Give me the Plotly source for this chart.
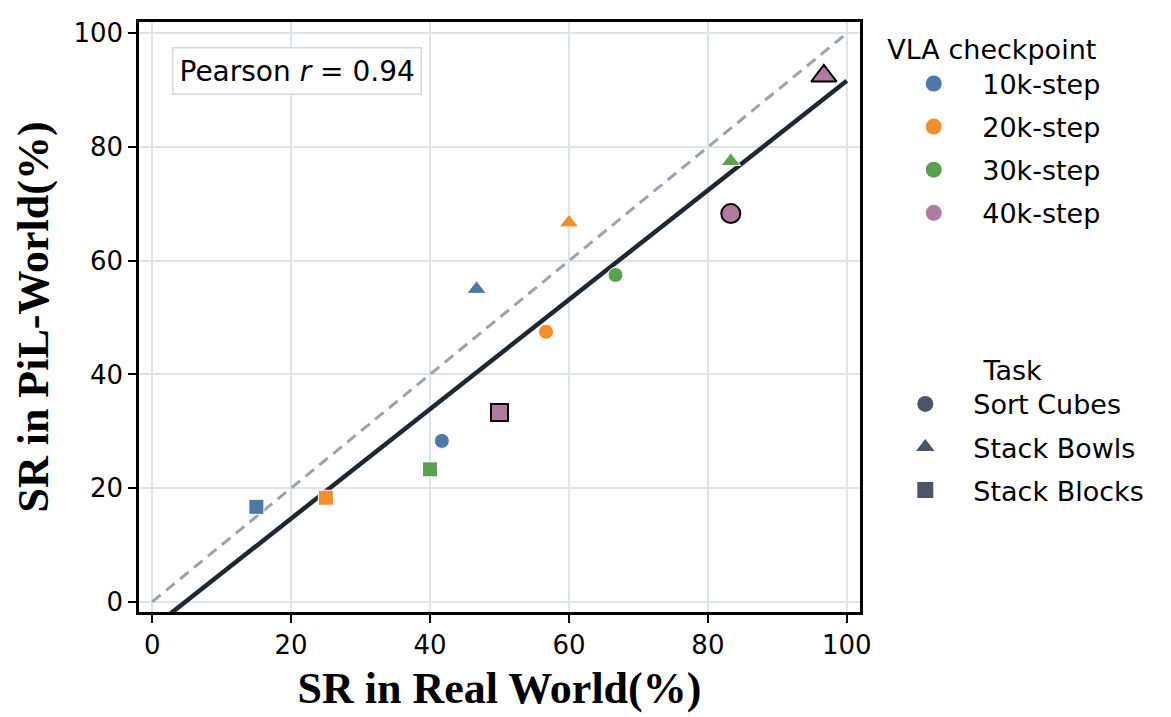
import numpy as np
import plotly.graph_objects as go

checkpoints = ["10k-step", "20k-step", "30k-step", "40k-step"]
colors = ["#4e79a7", "#f28e2b", "#59a14f", "#b07aa1"]
tasks = ["Sort Cubes", "Stack Bowls", "Stack Blocks"]
task_symbols = ["circle", "triangle-up", "square"]

# SR values (%) per checkpoint, ordered by task: Sort Cubes, Stack Bowls, Stack Blocks
real_10k = [41.7, 46.7, 15.0]
real_20k = [56.7, 60.0, 25.0]
real_30k = [66.7, 83.3, 40.0]
real_40k = [83.3, 96.7, 50.0]
sim_10k = [28.3, 55.0, 16.7]
sim_20k = [47.5, 66.7, 18.3]
sim_30k = [57.5, 77.5, 23.3]
sim_40k = [68.3, 92.5, 33.3]

real = [real_10k, real_20k, real_30k, real_40k]
sim = [sim_10k, sim_20k, sim_30k, sim_40k]

all_x = np.array(sum(real, []))
all_y = np.array(sum(sim, []))
slope, intercept = np.polyfit(all_x, all_y, 1)
r = np.corrcoef(all_x, all_y)[0, 1]

fig = go.Figure()

line_x = np.array([0, 100])
fig.add_trace(go.Scatter(x=line_x, y=line_x, mode="lines", showlegend=False,
                         line=dict(color="#9aa3ae", width=3, dash="11px,7px"), hoverinfo="skip"))
fig.add_trace(go.Scatter(x=line_x, y=slope * line_x + intercept, mode="lines", showlegend=False,
                         line=dict(color="#1f2733", width=4.5), hoverinfo="skip"))

base_size = {"circle": 15, "triangle-up": 17, "square": 15}
big_size = {"circle": 19, "triangle-up": 22, "square": 17}
for i, name in enumerate(checkpoints):
    last = i == len(checkpoints) - 1
    sizes = [(big_size[s] if last else base_size[s]) for s in task_symbols]
    fig.add_trace(go.Scatter(
        x=real[i], y=sim[i], mode="markers", showlegend=False,
        marker=dict(color=colors[i], symbol=task_symbols, size=sizes, opacity=1,
                    line=dict(color="black" if last else "white", width=2 if last else 1)),
    ))

for i, name in enumerate(checkpoints):
    fig.add_trace(go.Scatter(x=[None], y=[None], mode="markers", name=name, legend="legend",
                             legendgroup="ck%d" % i,
                             marker=dict(color=colors[i], symbol="circle", size=16)))
for j, (t, s) in enumerate(zip(tasks, task_symbols)):
    fig.add_trace(go.Scatter(x=[None], y=[None], mode="markers", name=t, legend="legend2",
                             legendgroup="task%d" % j,
                             marker=dict(color="#4a5568", symbol=s, size=16)))

fig.add_annotation(xref="paper", yref="paper", x=0.046, y=0.958, xanchor="left", yanchor="top",
                   text="Pearson <i>r</i> = %.2f" % r, showarrow=False,
                   font=dict(family="DejaVu Sans", size=28, color="black"),
                   bgcolor="white", bordercolor="#d3d9e2", borderwidth=1.5, borderpad=6)

axis_common = dict(showgrid=True, gridcolor="#dfe3ea", gridwidth=1.5, zeroline=False,
                   ticks="outside", ticklen=8, tickwidth=2, tickcolor="black",
                   tickfont=dict(family="DejaVu Sans", size=26, color="black"),
                   showline=True, linecolor="black", linewidth=2.5, mirror=True,
                   tick0=0, dtick=20)
fig.update_xaxes(range=[-1.9, 101.9], title=dict(text="SR in Real World(%)", standoff=14,
                 font=dict(family="Liberation Serif", size=44, color="black", weight="bold")), **axis_common)
fig.update_yaxes(range=[-1.8, 102.0], title=dict(text="SR in PiL-World(%)", standoff=12,
                 font=dict(family="Liberation Serif", size=44, color="black", weight="bold")), **axis_common)

fig.update_layout(
    width=1171, height=717,
    margin=dict(l=139, r=311, t=22, b=103),
    plot_bgcolor="white", paper_bgcolor="white",
    font=dict(family="DejaVu Sans", color="black"),
    legend=dict(title=dict(text="VLA checkpoint", font=dict(size=27)), font=dict(size=27),
                x=1.035, y=0.996, xanchor="left", yanchor="top", itemwidth=87,
                tracegroupgap=5, bgcolor="rgba(0,0,0,0)"),
    legend2=dict(title=dict(text="Task", font=dict(size=27), side="top center"), font=dict(size=27),
                 x=1.024, y=0.453, xanchor="left", yanchor="top", itemwidth=86,
                 tracegroupgap=5, bgcolor="rgba(0,0,0,0)"),
)

fig.write_html("out.html")
